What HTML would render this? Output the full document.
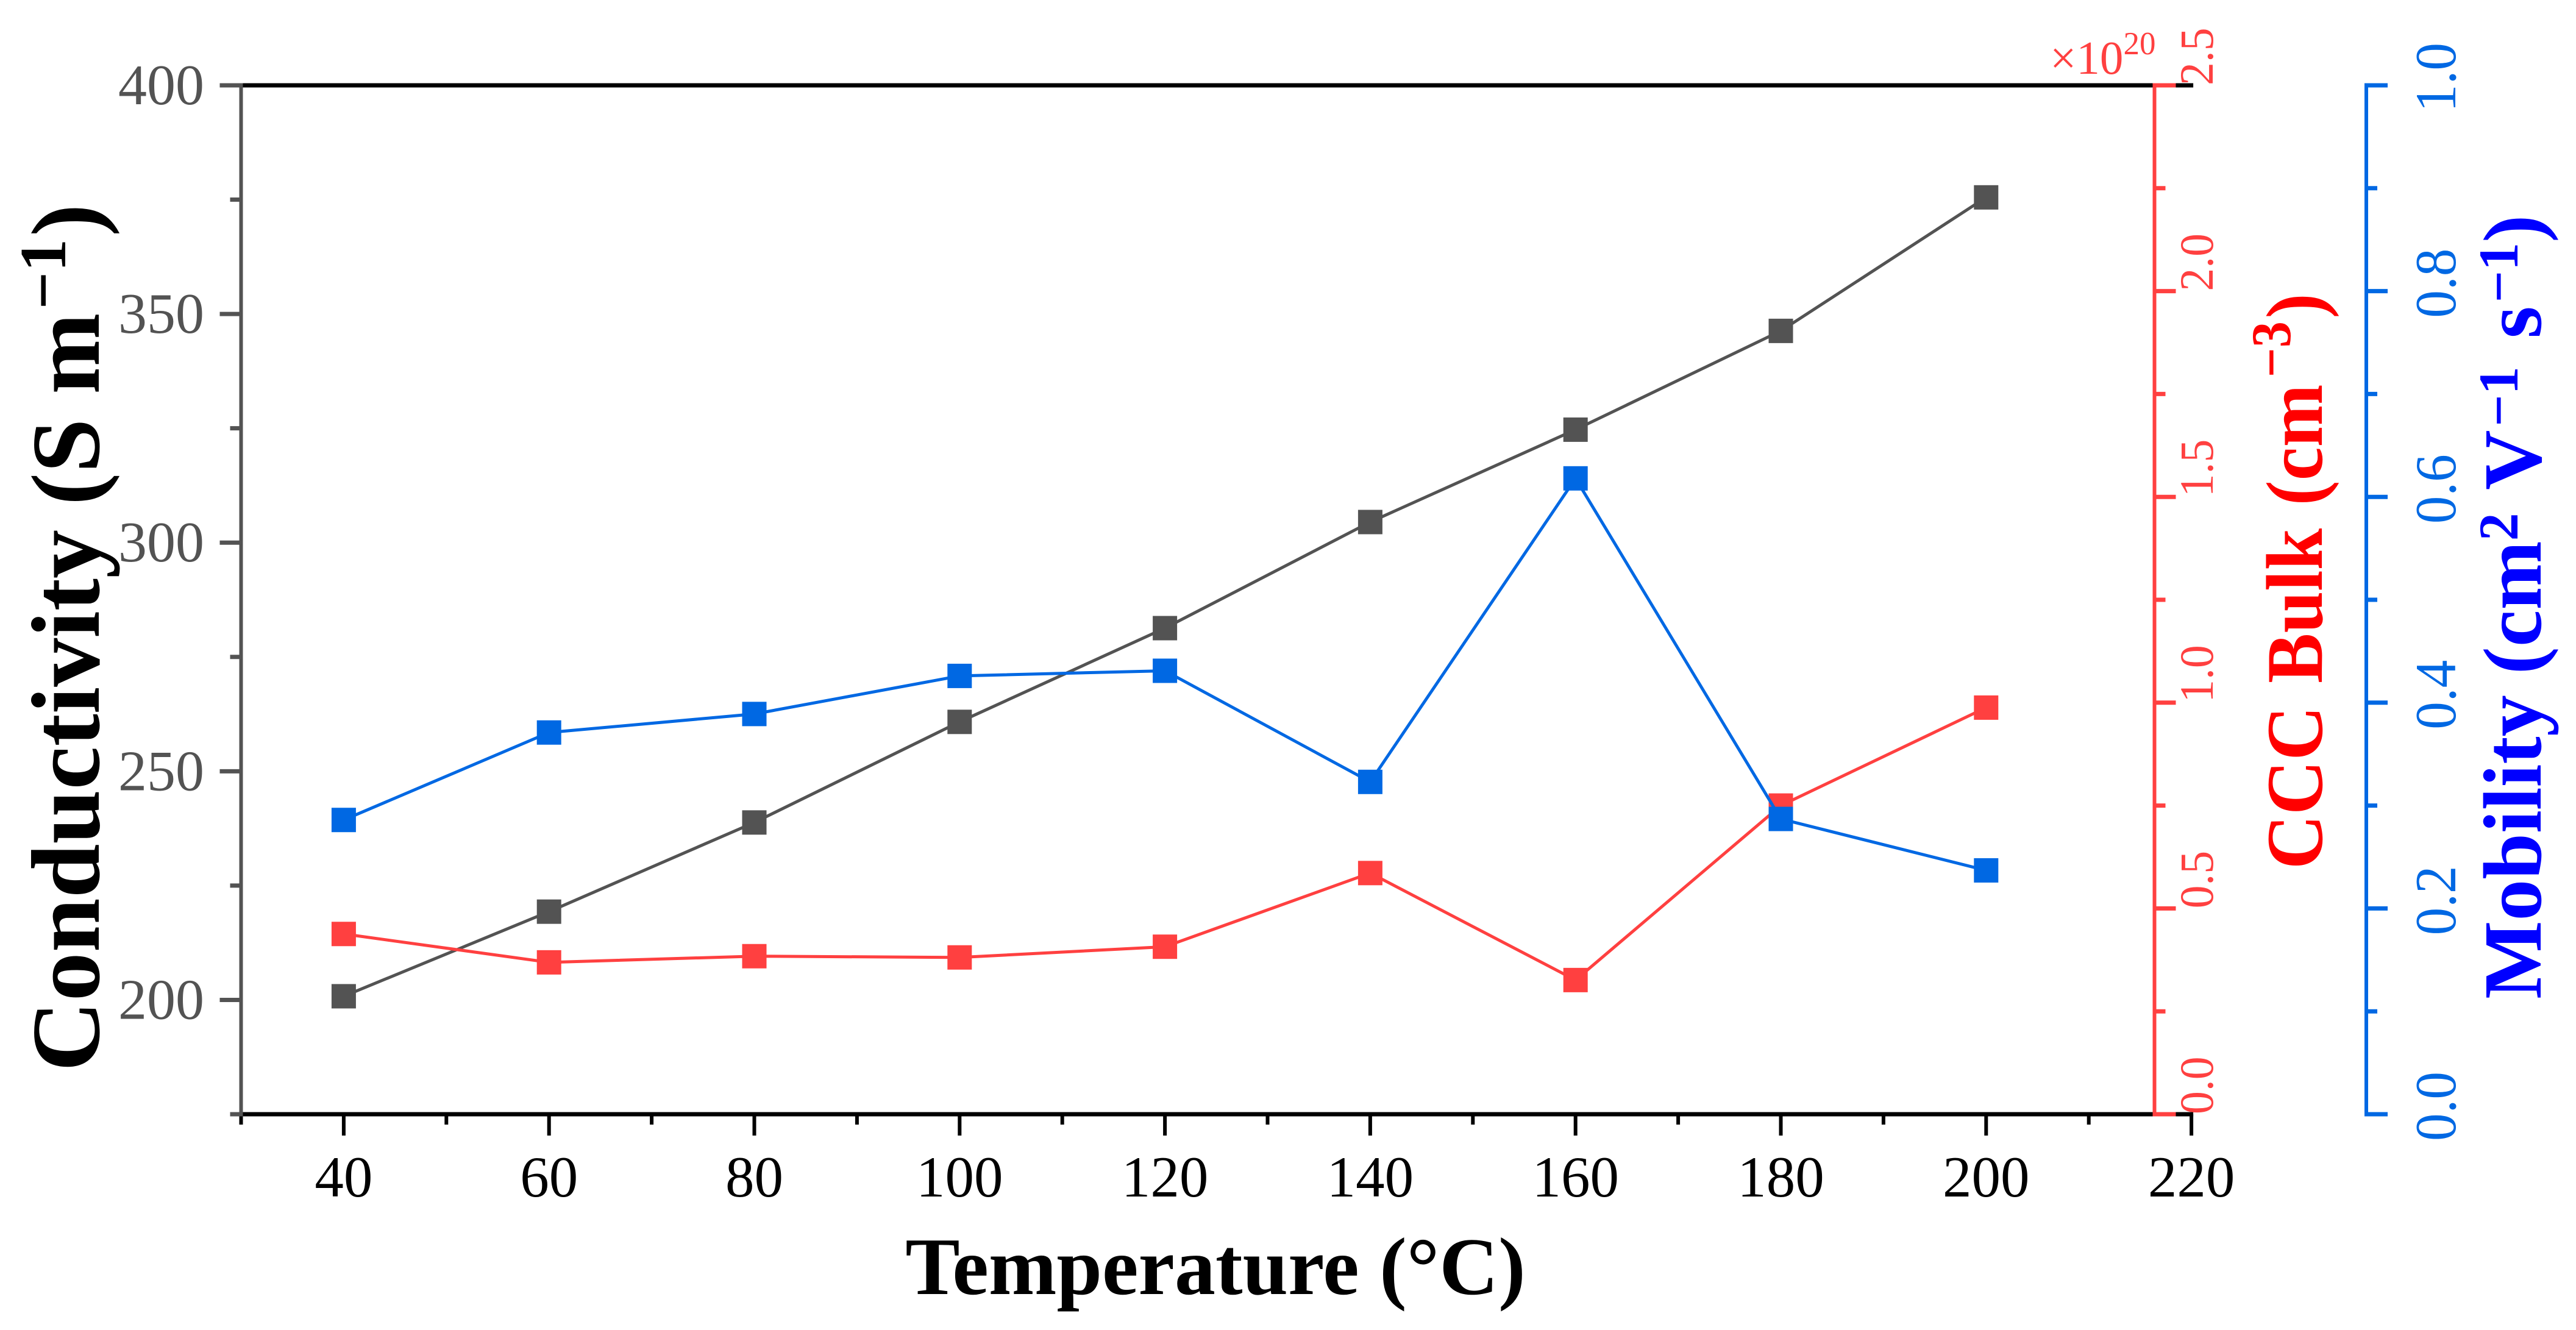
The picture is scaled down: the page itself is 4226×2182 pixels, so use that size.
<!DOCTYPE html>
<html lang="en">
<head>
<meta charset="utf-8">
<title>Conductivity, CCC Bulk and Mobility vs Temperature</title>
<style>
html,body{margin:0;padding:0;background:#fff;}
svg{display:block;}
text{font-family:"Liberation Serif",serif;}
</style>
</head>
<body>
<svg id="chart" xmlns="http://www.w3.org/2000/svg" width="4226" height="2182" viewBox="0 0 4226 2182">
<rect x="0" y="0" width="4226" height="2182" fill="#ffffff"/>
<text transform="translate(162,1758) rotate(-90)" font-size="160" font-weight="bold" fill="#000000">Conductivity (S m<tspan font-size="108" dy="-55" dx="6">−1</tspan><tspan dy="55" dx="4">)</tspan></text>
<text transform="translate(3809,1426) rotate(-90) scale(0.936,1)" font-size="132" font-weight="bold" fill="#ff0000" word-spacing="7">CCC Bulk (cm<tspan font-size="92" dy="-52" dx="12">−3</tspan><tspan dy="52" dx="5">)</tspan></text>
<text transform="translate(4168,1639) rotate(-90)" font-size="136" font-weight="bold" fill="#0000ff">Mobility (cm<tspan font-size="92" dy="-38">2</tspan><tspan dy="38" dx="6"> V</tspan><tspan font-size="92" dy="-38" dx="6">−1</tspan><tspan dy="38" dx="12"> s</tspan><tspan font-size="92" dy="-38" dx="6">−1</tspan><tspan dy="38">)</tspan></text>
<text x="1994" y="2123" text-anchor="middle" font-size="134" font-weight="bold" fill="#000000">Temperature (°C)</text>
<text x="3363" y="121" font-size="77" fill="#ff4040">×10<tspan font-size="53" dy="-32">20</tspan></text>
<g id="axes"></g>
<g id="series"></g>
</svg>
<script>
const temperatures = [40, 60, 80, 100, 120, 140, 160, 180, 200];
const conductivity = [200.8, 219.3, 238.8, 260.8, 281.3, 304.5, 324.7, 346.3, 375.5];
const cccBulk = [0.438, 0.369, 0.384, 0.381, 0.407, 0.586, 0.326, 0.750, 0.988];
const mobility = [0.286, 0.371, 0.389, 0.426, 0.431, 0.323, 0.618, 0.287, 0.237];
const xMajorTicks = [40, 60, 80, 100, 120, 140, 160, 180, 200, 220];
const xMinorTicks = [30, 50, 70, 90, 110, 130, 150, 170, 190, 210];
const leftMajorTicks = [200, 250, 300, 350, 400];
const leftMinorTicks = [175, 225, 275, 325, 375];
const cccMajorTicks = ["0.0", "0.5", "1.0", "1.5", "2.0", "2.5"];
const cccMinorTicks = [0.25, 0.75, 1.25, 1.75, 2.25];
const mobilityMajorTicks = ["0.0", "0.2", "0.4", "0.6", "0.8", "1.0"];
const mobilityMinorTicks = [0.1, 0.3, 0.5, 0.7, 0.9];

const NS = 'http://www.w3.org/2000/svg';
const GRAY = '#535353', RED = '#ff4040', BLUE = '#0068e3';
const PLOT_TOP = 140, PLOT_BOTTOM = 1828, PLOT_LEFT = 395.5, X_UNIT = 16.84;

function xScale(v) { return PLOT_LEFT + (v - 30) * X_UNIT; }
function leftScale(v) { return PLOT_BOTTOM - (v - 175) / 225 * (PLOT_BOTTOM - PLOT_TOP); }
function cccScale(v) { return PLOT_BOTTOM - v / 2.5 * (PLOT_BOTTOM - PLOT_TOP); }
function mobilityScale(v) { return PLOT_BOTTOM - v / 1 * (PLOT_BOTTOM - PLOT_TOP); }

const axesGroup = document.getElementById('axes');
const seriesGroup = document.getElementById('series');

function line(parent, name, x1, y1, x2, y2, color, width) {
  const el = document.createElementNS(NS, 'line');
  
  
  el.setAttribute('x1', x1);
  el.setAttribute('y1', y1);
  el.setAttribute('x2', x2);
  el.setAttribute('y2', y2);
  el.setAttribute('stroke', color);
  el.setAttribute('stroke-width', width);
  parent.appendChild(el);
}

function label(parent, name, str, transform, size, color, anchor) {
  const el = document.createElementNS(NS, 'text');
  
  
  el.setAttribute('transform', transform);
  el.setAttribute('font-size', size);
  el.setAttribute('fill', color);
  el.setAttribute('text-anchor', anchor);
  el.textContent = str;
  parent.appendChild(el);
}

/* black frame */
line(axesGroup, 'x-axis-line', PLOT_LEFT - 3, PLOT_BOTTOM, xScale(220) + 3, PLOT_BOTTOM, '#000000', 7);
line(axesGroup, 'top-axis-line', PLOT_LEFT - 3, PLOT_TOP, xScale(220) + 3, PLOT_TOP, '#000000', 7);

/* x axis */
xMajorTicks.forEach(function (v) {
  line(axesGroup, 'x-major-tick', xScale(v), PLOT_BOTTOM, xScale(v), PLOT_BOTTOM + 35, '#000000', 6);
  label(axesGroup, 'x-tick-label', String(v), 'translate(' + xScale(v) + ',1963)', 95, '#000000', 'middle');
});
xMinorTicks.forEach(function (v) {
  line(axesGroup, 'x-minor-tick', xScale(v), PLOT_BOTTOM, xScale(v), PLOT_BOTTOM + 17, '#000000', 6);
});

/* left axis */
line(axesGroup, 'conductivity-axis-line', PLOT_LEFT, PLOT_TOP - 3, PLOT_LEFT, PLOT_BOTTOM + 3, GRAY, 6);
leftMajorTicks.forEach(function (v) {
  line(axesGroup, 'conductivity-major-tick', PLOT_LEFT - 35, leftScale(v), PLOT_LEFT + 3, leftScale(v), GRAY, 7);
  label(axesGroup, 'conductivity-tick-label', String(v), 'translate(335,' + (leftScale(v) + 31) + ')', 94, GRAY, 'end');
});
leftMinorTicks.forEach(function (v) {
  line(axesGroup, 'conductivity-minor-tick', PLOT_LEFT - 18, leftScale(v), PLOT_LEFT + 3, leftScale(v), GRAY, 7);
});

/* CCC axis */
const CCC_X = 3534.5;
line(axesGroup, 'ccc-axis-line', CCC_X, PLOT_TOP - 3, CCC_X, PLOT_BOTTOM + 3, RED, 6);
cccMajorTicks.forEach(function (t) {
  const y = cccScale(parseFloat(t));
  line(axesGroup, 'ccc-major-tick', CCC_X - 3, y, CCC_X + 35, y, RED, 7);
  label(axesGroup, 'ccc-tick-label', t, 'translate(3630,' + y + ') rotate(-90) scale(0.97,1)', 78, RED, 'start');
});
cccMinorTicks.forEach(function (v) {
  line(axesGroup, 'ccc-minor-tick', CCC_X, cccScale(v), CCC_X + 18, cccScale(v), RED, 7);
});

/* Mobility axis */
const MOB_X = 3882;
line(axesGroup, 'mobility-axis-line', MOB_X, PLOT_TOP - 3, MOB_X, PLOT_BOTTOM + 3, BLUE, 6);
mobilityMajorTicks.forEach(function (t) {
  const y = mobilityScale(parseFloat(t));
  line(axesGroup, 'mobility-major-tick', MOB_X - 3, y, MOB_X + 35, y, BLUE, 7);
  label(axesGroup, 'mobility-tick-label', t, 'translate(4028,' + (y - 13) + ') rotate(-90) scale(0.96,1)', 95, BLUE, 'middle');
});
mobilityMinorTicks.forEach(function (v) {
  line(axesGroup, 'mobility-minor-tick', MOB_X, mobilityScale(v), MOB_X + 18, mobilityScale(v), BLUE, 7);
});

/* series */
function drawSeries(name, values, scale, color) {
  const poly = document.createElementNS(NS, 'polyline');
  
  
  poly.setAttribute('fill', 'none');
  poly.setAttribute('stroke', color);
  poly.setAttribute('stroke-width', 5);
  poly.setAttribute('points', values.map(function (v, i) {
    return xScale(temperatures[i]) + ',' + scale(v);
  }).join(' '));
  seriesGroup.appendChild(poly);
  values.forEach(function (v, i) {
    const m = document.createElementNS(NS, 'rect');
    
    
    m.setAttribute('x', xScale(temperatures[i]) - 20);
    m.setAttribute('y', scale(v) - 20);
    m.setAttribute('width', 40);
    m.setAttribute('height', 40);
    m.setAttribute('fill', color);
    seriesGroup.appendChild(m);
  });
}
drawSeries('conductivity', conductivity, leftScale, GRAY);
drawSeries('ccc-bulk', cccBulk, cccScale, RED);
drawSeries('mobility', mobility, mobilityScale, BLUE);
</script>
</body>
</html>
